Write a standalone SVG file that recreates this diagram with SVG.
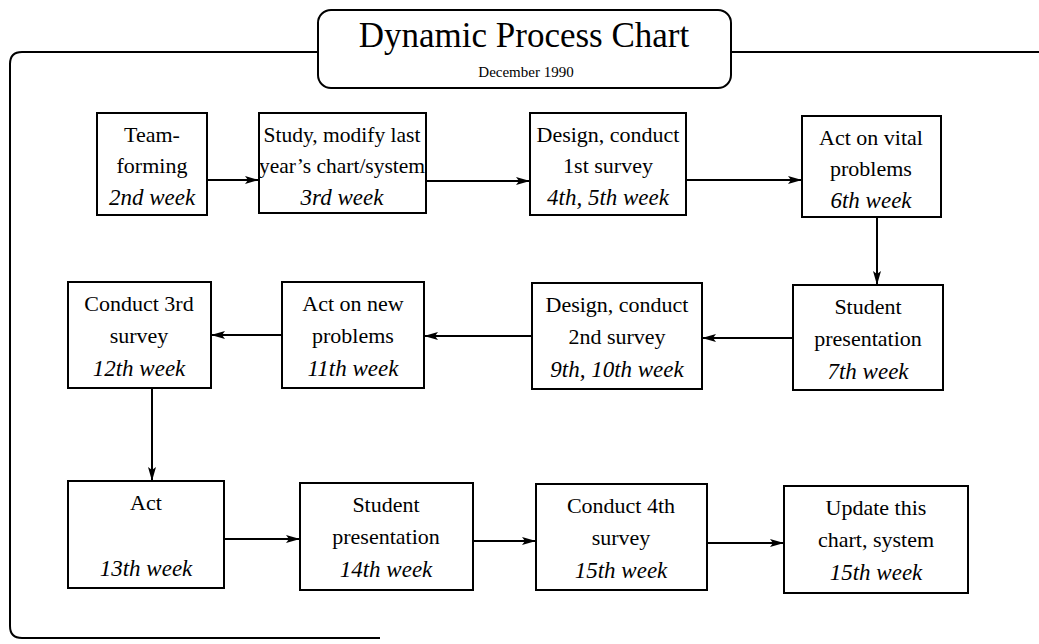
<svg xmlns="http://www.w3.org/2000/svg" width="1039" height="644" viewBox="0 0 1039 644">
<defs>
<marker id="ah" viewBox="0 0 14 8" refX="14" refY="4" markerWidth="14" markerHeight="8" markerUnits="userSpaceOnUse" orient="auto">
<path d="M0,0 L14,4 L0,8 L3,4 Z" fill="#000"/>
</marker>
<style>
.frame{fill:none;stroke:#000;stroke-width:2}
.box{fill:#fff;stroke:#000;stroke-width:2}
.t{font-family:"Liberation Serif","Times New Roman",serif;font-size:22px;fill:#000;text-anchor:middle}
.w{font-style:italic;font-size:23px}
.conn line{stroke:#000;stroke-width:2;marker-end:url(#ah)}
</style>
</defs>
<rect width="1039" height="644" fill="#fff"/>
<g id="frame">
<path class="frame" d="M318,52 H22 Q10,52 10,64 V626 Q10,638 22,638 H380"/>
<path class="frame" d="M731,52 H1039"/>
</g>
<g id="title">
<rect class="box" x="318" y="10" width="413" height="78" rx="13"/>
<text class="t" x="524" y="47" style="font-size:35px">Dynamic Process Chart</text>
<text class="t" x="526" y="77" style="font-size:15px">December 1990</text>
</g>
<g class="conn" id="connectors">
<line x1="207" y1="180" x2="259" y2="180"/>
<line x1="426" y1="181" x2="530" y2="181"/>
<line x1="686" y1="180" x2="802" y2="180"/>
<line x1="877" y1="217" x2="877" y2="285"/>
<line x1="793" y1="338" x2="702" y2="338"/>
<line x1="532" y1="336" x2="424" y2="336"/>
<line x1="282" y1="335" x2="211" y2="335"/>
<line x1="152" y1="388" x2="152" y2="481"/>
<line x1="224" y1="539" x2="300" y2="539"/>
<line x1="473" y1="541" x2="536" y2="541"/>
<line x1="707" y1="543" x2="784" y2="543"/>
</g>
<g id="n1">
<rect class="box" x="97" y="113" width="110" height="102"/>
<text class="t" x="152" y="142">Team-</text>
<text class="t" x="152" y="173">forming</text>
<text class="t w" x="152" y="205">2nd week</text>
</g>
<g id="n2">
<rect class="box" x="259" y="113" width="167" height="100"/>
<text class="t" x="342" y="142" style="font-size:21.5px">Study, modify last</text>
<text class="t" x="342" y="173" style="font-size:21.5px">year’s chart/system</text>
<text class="t w" x="342" y="205">3rd week</text>
</g>
<g id="n3">
<rect class="box" x="530" y="113" width="156" height="102"/>
<text class="t" x="608" y="142">Design, conduct</text>
<text class="t" x="608" y="173">1st survey</text>
<text class="t w" x="608" y="205">4th, 5th week</text>
</g>
<g id="n4">
<rect class="box" x="802" y="116" width="139" height="101"/>
<text class="t" x="871" y="145">Act on vital</text>
<text class="t" x="871" y="176">problems</text>
<text class="t w" x="871" y="208">6th week</text>
</g>
<g id="n5">
<rect class="box" x="793" y="285" width="150" height="105"/>
<text class="t" x="868" y="314">Student</text>
<text class="t" x="868" y="346">presentation</text>
<text class="t w" x="868" y="379">7th week</text>
</g>
<g id="n6">
<rect class="box" x="532" y="283" width="170" height="106"/>
<text class="t" x="617" y="312">Design, conduct</text>
<text class="t" x="617" y="344">2nd survey</text>
<text class="t w" x="617" y="377">9th, 10th week</text>
</g>
<g id="n7">
<rect class="box" x="282" y="282" width="142" height="106"/>
<text class="t" x="353" y="311">Act on new</text>
<text class="t" x="353" y="343">problems</text>
<text class="t w" x="353" y="376">11th week</text>
</g>
<g id="n8">
<rect class="box" x="68" y="282" width="143" height="106"/>
<text class="t" x="139" y="311">Conduct 3rd</text>
<text class="t" x="139" y="343">survey</text>
<text class="t w" x="139" y="376">12th week</text>
</g>
<g id="n9">
<rect class="box" x="68" y="481" width="156" height="107"/>
<text class="t" x="146" y="510">Act</text>
<text class="t w" x="146" y="576">13th week</text>
</g>
<g id="n10">
<rect class="box" x="300" y="483" width="173" height="107"/>
<text class="t" x="386" y="512">Student</text>
<text class="t" x="386" y="544">presentation</text>
<text class="t w" x="386" y="577">14th week</text>
</g>
<g id="n11">
<rect class="box" x="536" y="484" width="171" height="106"/>
<text class="t" x="621" y="513">Conduct 4th</text>
<text class="t" x="621" y="545">survey</text>
<text class="t w" x="621" y="578">15th week</text>
</g>
<g id="n12">
<rect class="box" x="784" y="486" width="184" height="107"/>
<text class="t" x="876" y="515">Update this</text>
<text class="t" x="876" y="547">chart, system</text>
<text class="t w" x="876" y="580">15th week</text>
</g>
</svg>
